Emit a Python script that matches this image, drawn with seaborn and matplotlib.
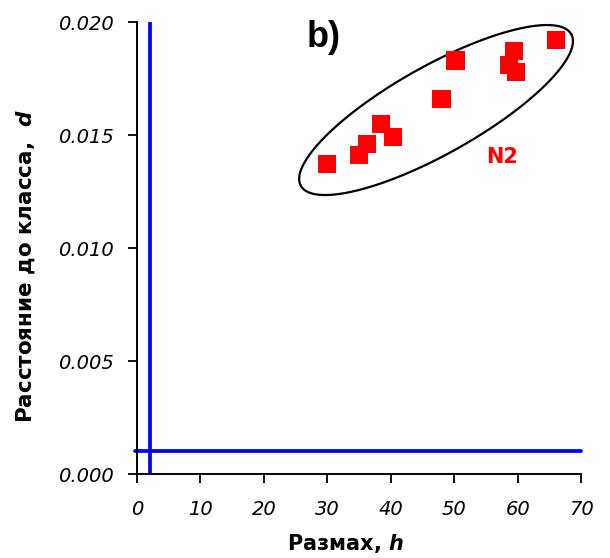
import numpy as np
import pandas as pd
import matplotlib
matplotlib.use("Agg")
import matplotlib.pyplot as plt
import seaborn as sns

# data
h_values = [30.0, 35.0, 36.3, 38.5, 40.4, 48.0, 50.2, 59.4, 58.7, 59.7, 66.0]
d_values = [0.0137, 0.0141, 0.0146, 0.0155, 0.0149, 0.0166, 0.0183, 0.0187, 0.0181, 0.0178, 0.0192]
x_ticks = [0, 10, 20, 30, 40, 50, 60, 70]
y_ticks = [0.000, 0.005, 0.010, 0.015, 0.020]
h_threshold = 2.0
d_threshold = 0.001

sns.set_style("ticks")
plt.rcParams['font.family'] = ['DejaVu Sans']
plt.rcParams['mathtext.fontset'] = 'custom'
plt.rcParams['mathtext.it'] = 'DejaVu Sans:italic:bold'
plt.rcParams['mathtext.rm'] = 'DejaVu Sans:bold'
for k in ['text.color', 'axes.labelcolor', 'xtick.color', 'ytick.color', 'axes.edgecolor']:
    plt.rcParams[k] = 'black'

fig = plt.figure(figsize=(6.10, 5.58), dpi=100)
ax = fig.add_axes([0.2246, 0.1505, 0.728, 0.81])

df = pd.DataFrame({"h": h_values, "d": d_values})
sns.scatterplot(data=df, x="h", y="d", marker="s", s=170, color="#ff0000",
                edgecolor="none", linewidth=0, ax=ax, zorder=3)

ax.axvline(h_threshold, color="#0000ff", lw=2.7, zorder=2)
ax.plot([-0.3, 70], [d_threshold, d_threshold], color="#0000ff", lw=2.7, zorder=2, clip_on=False)

ax.set_xlim(0, 70)
ax.set_ylim(0, 0.020)
ax.set_xticks(x_ticks)
ax.set_yticks(y_ticks)
ax.set_xticklabels([str(t) for t in x_ticks], fontstyle="italic", fontsize=14)
ax.set_yticklabels([f"{t:.3f}" for t in y_ticks], fontstyle="italic", fontsize=14)
ax.tick_params(axis="x", direction="out", length=6.5, width=1.3, pad=12)
ax.tick_params(axis="y", direction="out", length=6.5, width=1.3, pad=10)
for sp in ["top", "right"]:
    ax.spines[sp].set_visible(False)
for sp in ["left", "bottom"]:
    ax.spines[sp].set_linewidth(1.4)

axw, axh = 444.0, 452.0
ax.set_xlabel(r"Размах, $h$", fontsize=15, fontweight="bold")
ax.set_ylabel(r"Расстояние до класса,  $d$", fontsize=15.5, fontweight="bold")
ax.xaxis.set_label_coords((345 - 137) / axw, (474 - 532) / axh)
ax.yaxis.set_label_coords((37 - 137) / axw, (474 - 266) / axh)

# ellipse around cluster (in axes fraction, scaled to pixel aspect)
cx, cy = 436 - 137, 474 - 110
a, b = 155.0, 44.0
ang = np.deg2rad(29.3)
t = np.linspace(0, 2 * np.pi, 300)
ex = cx + a * np.cos(t) * np.cos(ang) - b * np.sin(t) * np.sin(ang)
ey = cy + a * np.cos(t) * np.sin(ang) + b * np.sin(t) * np.cos(ang)
ax.plot(ex / axw, ey / axh, color="black", lw=1.6, transform=ax.transAxes, clip_on=False, zorder=1)

ax.text((307 - 137) / axw, (474 - 47) / axh, "b)", transform=ax.transAxes,
        fontsize=26, fontweight="bold", ha="left", va="baseline",
        family="Liberation Sans")
ax.text((502 - 137) / axw, (474 - 157) / axh, "N2", transform=ax.transAxes,
        fontsize=15, fontweight="bold", color="#ff0000", ha="center", va="center")

fig.savefig("out.png", dpi=100)
